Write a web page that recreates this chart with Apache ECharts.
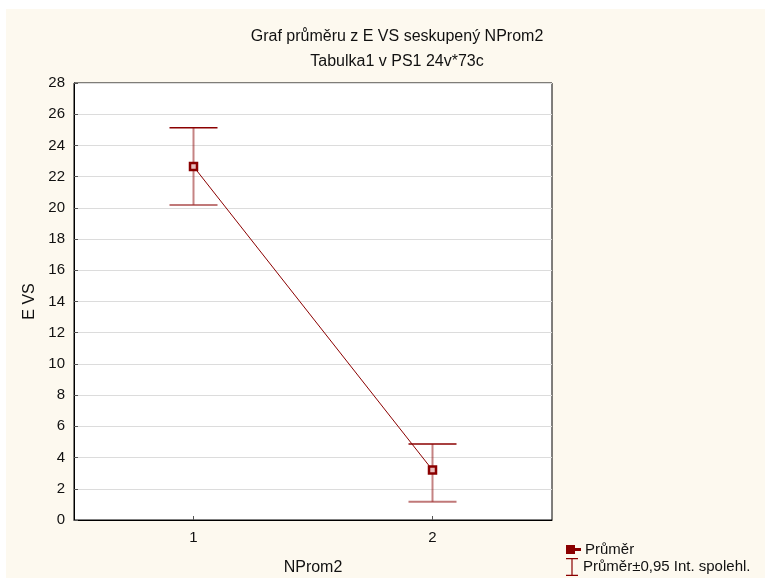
<!DOCTYPE html>
<html>
<head>
<meta charset="utf-8">
<script src="https://cdn.jsdelivr.net/npm/echarts@6/dist/echarts.min.js"></script>
<style>
html,body{margin:0;padding:0;background:#fff;}
#wrap{position:absolute;left:6px;top:9px;width:759px;height:569px;background:#fdf9ef;}
#c{position:absolute;left:0;top:0;width:765px;height:578px;}
</style>
</head>
<body>
<div id="wrap"></div>
<div id="c"></div>
<script>
const categories = ['1', '2'];
const means = [22.65, 3.2];
const ciLow = [20.19, 1.17];
const ciHigh = [25.13, 4.87];
const yMin = 0, yMax = 28, yStep = 2;

const chart = echarts.init(document.getElementById('c'), null, {renderer: 'canvas'});
const dark = '#8b0000';
const font = 'Liberation Sans, Arial, sans-serif';

const errData = categories.map((c, i) => [i, ciLow[i], ciHigh[i]]);
const legendText = {fontSize: 15, color: '#111', fontFamily: font};

const option = {
  backgroundColor: 'transparent',
  animation: false,
  textStyle: {fontFamily: font},
  title: [
    {text: 'Graf průměru z E VS seskupený NProm2', left: 392, top: 24, textAlign: 'center',
     textStyle: {fontSize: 16, fontWeight: 'normal', color: '#111', fontFamily: font}},
    {text: 'Tabulka1 v PS1 24v*73c', left: 392, top: 49, textAlign: 'center',
     textStyle: {fontSize: 16, fontWeight: 'normal', color: '#111', fontFamily: font}}
  ],
  grid: {left: 74, right: 213, top: 83, bottom: 58, show: true, backgroundColor: '#fff', borderColor: '#000', borderWidth: 1,
         containLabel: false, outerBoundsMode: 'none'},
  legend: [
    {left: 566, top: 542, itemGap: 5, itemWidth: 13, itemHeight: 12, padding: 0,
     textStyle: legendText,
     data: [{name: 'Průměr', icon: 'path://M0,3H7V10H0Z M7,6H13V7H7Z M2.5,5.5H4.5V7.5H2.5Z', itemStyle: {color: dark}}]},
    {left: 566, top: 558, itemGap: 5, itemWidth: 12, itemHeight: 18, padding: 0,
     textStyle: legendText,
     data: [{name: 'Průměr±0,95 Int. spolehl.', icon: 'path://M0,0H12V1.2H0Z M5.4,1.2H6.6V16.8H5.4Z M0,16.8H12V18H0Z', itemStyle: {color: dark}}]}
  ],
  xAxis: {
    type: 'category', data: categories, boundaryGap: true,
    name: 'NProm2', nameLocation: 'middle', nameGap: 40,
    nameTextStyle: {fontSize: 16, color: '#111', fontFamily: font},
    axisLine: {lineStyle: {color: '#000', width: 1}},
    axisTick: {show: true, inside: true, alignWithLabel: true, length: 4, lineStyle: {color: '#555'}},
    axisLabel: {fontSize: 15, color: '#111', margin: 10, fontFamily: font},
    splitLine: {show: false}
  },
  yAxis: {
    type: 'value', min: yMin, max: yMax, interval: yStep,
    name: 'E VS', nameLocation: 'middle', nameGap: 35, nameRotate: 90,
    nameTextStyle: {fontSize: 16, color: '#111', fontFamily: font},
    axisLine: {show: true, lineStyle: {color: '#000', width: 1}},
    axisTick: {show: true, inside: true, length: 4, lineStyle: {color: '#555'}},
    axisLabel: {fontSize: 15, color: '#111', margin: 9, fontFamily: font},
    splitLine: {show: true, lineStyle: {color: '#dcdcdc', width: 1}}
  },
  series: [
    {
      name: 'Průměr±0,95 Int. spolehl.', type: 'custom', z: 2,
      itemStyle: {color: dark},
      data: errData,
      renderItem: function (params, api) {
        const x = api.value(0);
        const lo = api.coord([x, api.value(1)]);
        const hi = api.coord([x, api.value(2)]);
        const hw = 24;
        return {
          type: 'group',
          children: [
            {type: 'line', shape: {x1: hi[0], y1: hi[1], x2: lo[0], y2: lo[1]},
             style: {stroke: 'rgba(150,30,30,0.55)', lineWidth: 2}},
            {type: 'line', shape: {x1: hi[0] - hw, y1: hi[1], x2: hi[0] + hw, y2: hi[1]},
             style: {stroke: dark, lineWidth: 1.5}},
            {type: 'line', shape: {x1: lo[0] - hw, y1: lo[1], x2: lo[0] + hw, y2: lo[1]},
             style: {stroke: 'rgba(150,30,30,0.6)', lineWidth: 2}}
          ]
        };
      }
    },
    {
      name: 'Průměr', type: 'line', z: 3, data: means,
      symbol: 'rect', symbolSize: 7, showAllSymbol: true,
      lineStyle: {color: dark, width: 1},
      itemStyle: {color: '#e8bcbc', borderColor: dark, borderWidth: 2.5}
    }
  ]
};
chart.setOption(option);
</script>
</body>
</html>
